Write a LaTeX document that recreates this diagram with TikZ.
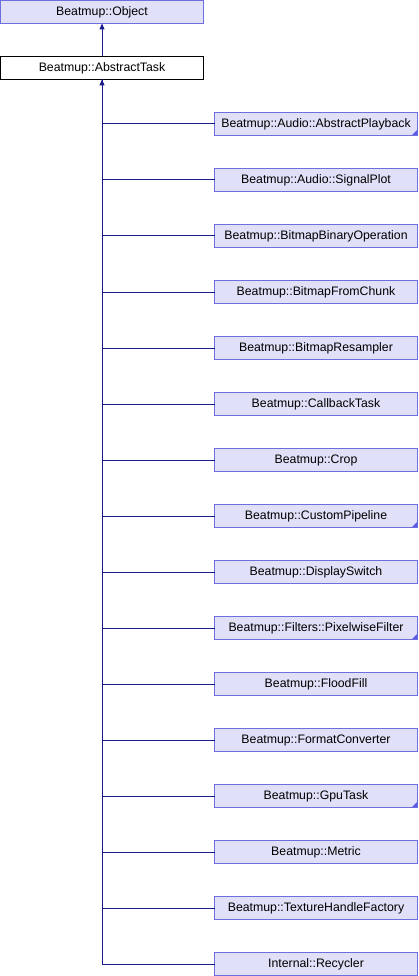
\documentclass[tikz,border=0pt]{standalone}
\usepackage{fontspec}
\setmainfont{Liberation Sans}
\usetikzlibrary{arrows.meta}
\definecolor{boxfill}{RGB}{224,224,248}
\definecolor{boxdraw}{RGB}{110,110,220}
\definecolor{linecol}{RGB}{26,26,140}
\definecolor{markcol}{RGB}{90,90,230}
\tikzset{
  base/.style={rectangle, minimum width=203pt, minimum height=23pt, inner sep=0pt, outer sep=0pt, line width=1pt, font=\fontsize{12.3}{14}\selectfont},
  classbox/.style={base, draw=boxdraw, fill=boxfill},
  curbox/.style={base, draw=black, fill=white},
  conn/.style={draw=linecol, line width=1pt},
  inh/.style={conn, {Triangle[length=6pt,width=5pt]}-},
}
\newcommand{\markcorner}[1]{\fill[markcol] ([xshift=-0.5pt,yshift=0.5pt]#1.south east) -- ++(-5pt,0pt) -- ++(5pt,5pt) -- cycle;}
\begin{document}
\begin{tikzpicture}[x=1pt,y=-1pt]
\useasboundingbox (0,0) rectangle (418,976);
\node[classbox] (obj) at (102,12) {Beatmup::Object};
\node[curbox] (abs) at (102,68) {Beatmup::AbstractTask};
\node[classbox] (c1) at (316,124) {Beatmup::Audio::AbstractPlayback};
\node[classbox] (c2) at (316,180) {Beatmup::Audio::SignalPlot};
\node[classbox] (c3) at (316,236) {Beatmup::BitmapBinaryOperation};
\node[classbox] (c4) at (316,292) {Beatmup::BitmapFromChunk};
\node[classbox] (c5) at (316,348) {Beatmup::BitmapResampler};
\node[classbox] (c6) at (316,404) {Beatmup::CallbackTask};
\node[classbox] (c7) at (316,460) {Beatmup::Crop};
\node[classbox] (c8) at (316,516) {Beatmup::CustomPipeline};
\node[classbox] (c9) at (316,572) {Beatmup::DisplaySwitch};
\node[classbox] (c10) at (316,628) {Beatmup::Filters::PixelwiseFilter};
\node[classbox] (c11) at (316,684) {Beatmup::FloodFill};
\node[classbox] (c12) at (316,740) {Beatmup::FormatConverter};
\node[classbox] (c13) at (316,796) {Beatmup::GpuTask};
\node[classbox] (c14) at (316,852) {Beatmup::Metric};
\node[classbox] (c15) at (316,908) {Beatmup::TextureHandleFactory};
\node[classbox] (c16) at (316,964) {Internal::Recycler};
\markcorner{c1}
\markcorner{c8}
\markcorner{c10}
\markcorner{c13}
\draw[inh] (obj.south) -- (abs.north);
\foreach \i in {1,...,15} {\draw[conn] (abs.south) |- (c\i.west);}
\draw[inh] (abs.south) |- (c16.west);
\end{tikzpicture}
\end{document}
